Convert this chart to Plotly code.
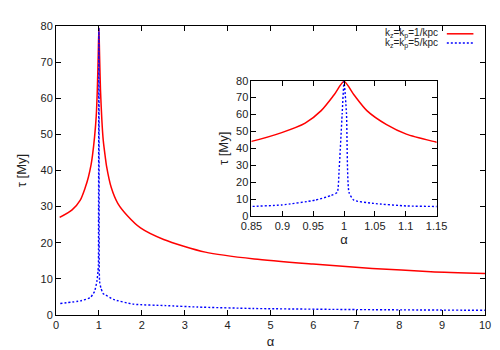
import plotly.graph_objects as go

# tau(alpha) for k_z = k_p = 1/kpc (red, solid)
alpha_1 = [0.085, 0.375, 0.566, 0.68, 0.756, 0.818, 0.85, 0.899, 0.937, 0.963,
           0.984, 1.0, 1.016, 1.037, 1.069, 1.101, 1.149, 1.177, 1.29, 1.44,
           1.67, 1.97, 2.51, 3.48, 4.62, 5.99, 7.37, 8.74, 10.0]
tau_1 = [27.0, 29.1, 31.8, 35.2, 38.2, 41.6, 44.1, 49.3, 54.9, 62.3,
         71.7, 79.5, 71.7, 62.3, 54.0, 48.4, 43.7, 41.3, 35.2, 30.9,
         27.4, 24.1, 20.9, 17.4, 15.5, 14.1, 12.9, 12.0, 11.5]

# tau(alpha) for k_z = k_p = 5/kpc (blue, dotted)
alpha_5 = [0.1, 0.57, 0.8, 0.85, 0.899, 0.953, 0.979, 0.989, 0.992, 0.997,
           1.0, 1.004, 1.008, 1.016, 1.048, 1.101, 1.149, 1.34, 1.8, 2.56,
           3.3, 4.6, 7.0, 10.0]
tau_5 = [3.2, 3.9, 4.8, 5.6, 6.5, 9.3, 12.1, 14.0, 27.0, 60.5,
         79.5, 60.5, 14.0, 9.3, 7.4, 5.9, 5.6, 4.3, 3.0, 2.6,
         2.2, 1.8, 1.5, 1.3]

labels = ["k<sub>z</sub>=k<sub>p</sub>=1/kpc", "k<sub>z</sub>=k<sub>p</sub>=5/kpc"]

red = dict(color="#ff0000", width=1.5, shape="spline", smoothing=0.7)
blue = dict(color="#0000ff", width=1.4, dash="2px,2px", shape="spline", smoothing=0.5)

fig = go.Figure()
fig.add_trace(go.Scatter(x=alpha_1, y=tau_1, mode="lines", line=red, showlegend=False))
fig.add_trace(go.Scatter(x=alpha_5, y=tau_5, mode="lines", line=blue, showlegend=False))
# inset
fig.add_trace(go.Scatter(x=alpha_1, y=tau_1, mode="lines", line=red, xaxis="x2", yaxis="y2", showlegend=False))
fig.add_trace(go.Scatter(x=alpha_5, y=tau_5, mode="lines", line=blue, xaxis="x2", yaxis="y2", showlegend=False))

ax = dict(showline=True, linecolor="black", linewidth=1, mirror="ticks", ticks="inside",
          ticklen=5, tickcolor="black", showgrid=False, zeroline=False,
          tickfont=dict(size=11, color="#222"))

fig.update_layout(
    width=500, height=350,
    margin=dict(l=48, r=15, t=12, b=32),
    paper_bgcolor="white", plot_bgcolor="white",
    font=dict(family="Liberation Sans, Arial, sans-serif", size=11, color="#222"),
    xaxis=dict(ax, range=[0, 10], dtick=1, title=dict(text="α", standoff=6)),
    yaxis=dict(ax, range=[0, 80], dtick=10, title=dict(text="τ [My]", standoff=10)),
    xaxis2=dict(ax, range=[0.85, 1.15], dtick=0.05, domain=[0.4557, 0.8871], anchor="y2",
                title=dict(text="α", standoff=2)),
    yaxis2=dict(ax, range=[0, 80], dtick=10, domain=[0.3428, 0.8107], anchor="x2",
                title=dict(text="τ [My]", standoff=4)),
)

# gnuplot-style key: label then line sample, top right
for i, (txt, ln) in enumerate(zip(labels, [red, blue])):
    yy = 0.973 - i * 0.032
    fig.add_annotation(xref="paper", yref="paper", x=0.894, y=yy, text=txt, showarrow=False,
                       xanchor="right", yanchor="middle", font=dict(size=10))
    fig.add_shape(type="line", xref="paper", yref="paper", x0=0.911, x1=0.973, y0=yy, y1=yy,
                  line=dict(color=ln["color"], width=ln["width"], dash=ln.get("dash", "solid")))

fig.write_html("out.html")
